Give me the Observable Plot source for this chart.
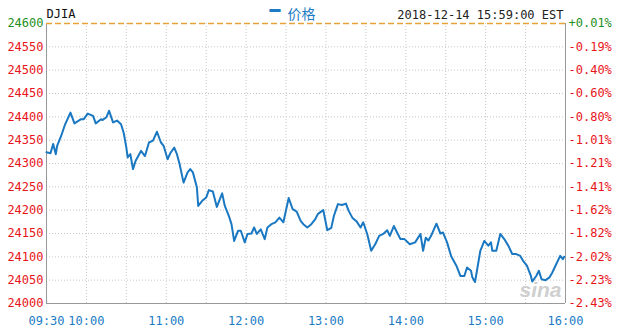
<!DOCTYPE html>
<html>
<head>
<meta charset="utf-8">
<script src="https://cdn.jsdelivr.net/npm/d3@7"></script>
<script src="https://cdn.jsdelivr.net/npm/@observablehq/plot@0.6"></script>
<style>
  html, body { margin: 0; padding: 0; background: #fff; }
  #chart svg { display: block; }
</style>
</head>
<body>
<div id="chart"></div>
<script>
// ---- data ----
const times = [
  "09:30","09:33","09:35","09:37","09:38","09:41","09:44","09:48","09:51","09:56",
  "09:58","10:01","10:05","10:07","10:11","10:12","10:15","10:17","10:20","10:23",
  "10:26","10:28","10:30","10:31","10:33","10:35","10:37","10:41","10:44","10:47",
  "10:50","10:53","10:56","10:58","11:01","11:03","11:06","11:08","11:10","11:13",
  "11:16","11:18","11:20","11:23","11:24","11:27","11:30","11:32","11:35","11:38",
  "11:42","11:44","11:47","11:49","11:51","11:54","11:56","11:59","12:01","12:04",
  "12:06","12:08","12:11","12:14","12:16","12:19","12:22","12:25","12:28","12:32",
  "12:35","12:38","12:41","12:43","12:46","12:49","12:52","12:54","12:58","13:01",
  "13:04","13:06","13:09","13:12","13:15","13:17","13:20","13:23","13:26","13:28",
  "13:31","13:34","13:37","13:40","13:43","13:46","13:48","13:51","13:54","13:56",
  "13:59","14:03","14:07","14:11","14:13","14:15","14:17","14:19","14:23","14:24",
  "14:26","14:28","14:31","14:34","14:38","14:41","14:44","14:46","14:49","14:50",
  "14:52","14:56","14:59","15:02","15:04","15:05","15:08","15:11","15:14","15:17",
  "15:20","15:23","15:26","15:28","15:31","15:34","15:35","15:38","15:40","15:42",
  "15:45","15:48","15:50","15:53","15:56","15:58","15:59"
];
const prices = [
  24324,24322,24342,24320,24338,24359,24384,24409,24386,24395,
  24395,24407,24402,24386,24395,24393,24399,24413,24388,24392,
  24384,24366,24334,24313,24320,24288,24306,24327,24316,24345,
  24349,24368,24345,24338,24309,24322,24334,24320,24299,24259,
  24281,24288,24281,24249,24209,24220,24227,24243,24240,24207,
  24236,24209,24188,24170,24134,24156,24156,24131,24149,24150,
  24163,24149,24159,24138,24163,24170,24174,24184,24174,24226,
  24202,24197,24177,24170,24163,24170,24181,24192,24200,24157,
  24162,24188,24213,24211,24214,24199,24183,24176,24163,24174,
  24149,24113,24127,24145,24149,24157,24145,24166,24149,24138,
  24138,24127,24131,24149,24113,24141,24135,24145,24171,24164,
  24150,24152,24131,24102,24081,24059,24059,24077,24070,24056,
  24046,24113,24134,24124,24131,24113,24113,24149,24138,24124,
  24106,24106,24102,24092,24081,24059,24047,24059,24070,24052,
  24050,24056,24066,24084,24102,24095,24100
];
const leftTicks = [24600,24550,24500,24450,24400,24350,24300,24250,24200,24150,24100,24050,24000];
const rightTickLabels = ["+0.01%","-0.19%","-0.40%","-0.60%","-0.80%","-1.01%","-1.21%","-1.41%","-1.62%","-1.82%","-2.02%","-2.23%","-2.43%"];
const xTickLabels = ["09:30","10:00","11:00","12:00","13:00","14:00","15:00","16:00"];
const gridTimes = ["10:00","10:30","11:00","11:30","12:00","12:30","13:00","13:30","14:00","14:30","15:00","15:30"];
const titleText = "DJIA";
const legendText = "价格";
const stampText = "2018-12-14 15:59:00 EST";

// ---- helpers ----
const toMin = s => { const [h, m] = s.split(":").map(Number); return h * 60 + m - 570; };
const series = times.map((t, i) => ({x: toMin(t), y: prices[i]}));
const leftRows = leftTicks.map((v, i) => ({v, label: String(v), pct: rightTickLabels[i]}));
const upRows = leftRows.filter(d => d.pct.startsWith("+"));
const downRows = leftRows.filter(d => !d.pct.startsWith("+"));

const RED = "#e8141a", GREEN = "#1f8f24", BLUE = "#1b7bc4", LINE = "#1a78c2";
const MONO = "'DejaVu Sans Mono', 'Liberation Mono', monospace";
const x0 = 0, x1 = 390, yTop = 24600, yBot = 24000;

const chart = Plot.plot({
  width: 629,
  height: 335,
  marginLeft: 46,
  marginRight: 64,
  marginTop: 23,
  marginBottom: 32,
  x: {domain: [x0, x1], axis: null},
  y: {domain: [yBot, yTop], axis: null},
  style: {fontFamily: MONO, fontSize: "12px", background: "#fff", overflow: "visible"},
  marks: [
    // grid
    Plot.ruleY(leftTicks.filter(v => v !== yTop && v !== yBot), {stroke: "#c8c8c8", strokeDasharray: "1,2"}),
    Plot.ruleX(gridTimes.map(toMin), {y1: yBot, y2: yTop, stroke: "#c8c8c8", strokeDasharray: "1,2"}),
    // frame
    Plot.ruleY([yBot], {stroke: "#999"}),
    Plot.ruleX([x0, x1], {y1: yBot, y2: yTop, stroke: "#999"}),
    Plot.ruleY([yTop], {stroke: "#e5a33a", strokeWidth: 1.5, strokeDasharray: "6,3"}),
    // price line
    Plot.line(series, {x: "x", y: "y", stroke: LINE, strokeWidth: 2, strokeLinejoin: "round"}),
    // watermark
    Plot.text(["sina"], {x: x1, y: yBot, dx: -4, dy: -13, textAnchor: "end", fill: "#cfcfcf",
      fontSize: 21, fontStyle: "italic", fontWeight: "bold", fontFamily: "'Liberation Sans', Arial, sans-serif"}),
    // left axis labels
    Plot.text(downRows, {x: x0, y: "v", text: "label", dx: -3, textAnchor: "end", fill: RED}),
    Plot.text(upRows, {x: x0, y: "v", text: "label", dx: -3, textAnchor: "end", fill: GREEN}),
    // right axis labels
    Plot.text(downRows, {x: x1, y: "v", text: "pct", dx: 3, textAnchor: "start", fill: RED}),
    Plot.text(upRows, {x: x1, y: "v", text: "pct", dx: 3, textAnchor: "start", fill: GREEN}),
    // x axis labels
    Plot.text(xTickLabels, {x: d => toMin(d), y: yBot, dy: 18, textAnchor: "middle", fill: BLUE}),
    // header
    Plot.text([titleText], {x: x0, y: yTop, dx: 0, dy: -9, textAnchor: "start", fill: "#111"}),
    Plot.text([stampText], {x: x1, y: yTop, dx: -2, dy: -8, textAnchor: "end", fill: "#222"}),
    Plot.text(["━"], {x: x0, y: yTop, dx: 223, dy: -12, textAnchor: "start", fill: BLUE, fontSize: 18,
      fontFamily: MONO}),
    Plot.text([legendText], {x: x0, y: yTop, dx: 241, dy: -9, textAnchor: "start", fill: BLUE, fontSize: 14,
      fontFamily: "'Noto Sans CJK SC', sans-serif"})
  ]
});
document.getElementById("chart").appendChild(chart);
</script>
</body>
</html>
